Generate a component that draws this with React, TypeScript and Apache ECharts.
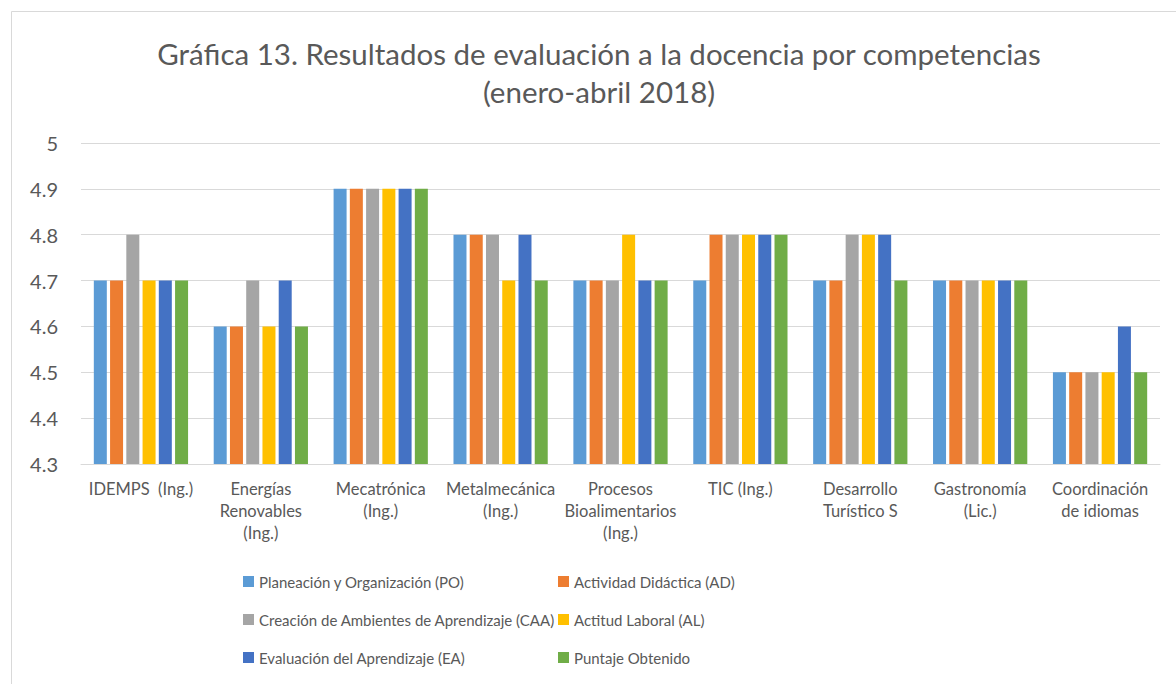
import React, { useEffect, useRef } from "react";
import * as echarts from "echarts";

const categories = [
  "IDEMPS  (Ing.)",
  "Energías\nRenovables\n(Ing.)",
  "Mecatrónica\n(Ing.)",
  "Metalmecánica\n(Ing.)",
  "Procesos\nBioalimentarios\n(Ing.)",
  "TIC (Ing.)",
  "Desarrollo\nTurístico S",
  "Gastronomía\n(Lic.)",
  "Coordinación\nde idiomas",
];

const seriesNames = [
  "Planeación y Organización (PO)",
  "Actividad Didáctica (AD)",
  "Creación de Ambientes de Aprendizaje (CAA)",
  "Actitud Laboral (AL)",
  "Evaluación del Aprendizaje (EA)",
  "Puntaje Obtenido",
];

const colors = ["#5B9BD5", "#ED7D31", "#A5A5A5", "#FFC000", "#4472C4", "#70AD47"];

const po = [4.7, 4.6, 4.9, 4.8, 4.7, 4.7, 4.7, 4.7, 4.5];
const ad = [4.7, 4.6, 4.9, 4.8, 4.7, 4.8, 4.7, 4.7, 4.5];
const caa = [4.8, 4.7, 4.9, 4.8, 4.7, 4.8, 4.8, 4.7, 4.5];
const al = [4.7, 4.6, 4.9, 4.7, 4.8, 4.8, 4.8, 4.7, 4.5];
const ea = [4.7, 4.7, 4.9, 4.8, 4.7, 4.8, 4.8, 4.7, 4.6];
const puntaje = [4.7, 4.6, 4.9, 4.7, 4.7, 4.8, 4.7, 4.7, 4.5];

const seriesData = [po, ad, caa, al, ea, puntaje];

const FONT = "Lato";
const TEXT = "#595959";

export default function App() {
  const ref = useRef<HTMLDivElement>(null);
  useEffect(() => {
    if (!ref.current) return;
    const chart = echarts.init(ref.current, undefined, { renderer: "svg" });
    const legendText = { color: TEXT, fontFamily: FONT, fontSize: 15 };
    chart.setOption({
      animation: false,
      backgroundColor: "#ffffff",
      color: colors,
      textStyle: { fontFamily: FONT },
      title: {
        text: "Gráfica 13. Resultados de evaluación a la docencia por competencias\n(enero-abril 2018)",
        left: 599,
        textAlign: "center",
        top: 34,
        padding: 0,
        textStyle: {
          color: TEXT,
          fontFamily: FONT,
          fontSize: 29.5,
          fontWeight: "normal",
          lineHeight: 38,
        },
      },
      graphic: [
        {
          type: "rect",
          shape: { x: 11.5, y: 11.5, width: 1200, height: 700 },
          style: { fill: "none", stroke: "#d9d9d9", lineWidth: 1 },
          silent: true,
        },
      ],
      legend: [
        {
          orient: "vertical",
          left: 238,
          top: 569,
          itemWidth: 11,
          itemHeight: 11,
          itemGap: 23,
          icon: "rect",
          data: [seriesNames[0], seriesNames[2], seriesNames[4]],
          textStyle: legendText,
        },
        {
          orient: "vertical",
          left: 553,
          top: 569,
          itemWidth: 11,
          itemHeight: 11,
          itemGap: 23,
          icon: "rect",
          data: [seriesNames[1], seriesNames[3], seriesNames[5]],
          textStyle: legendText,
        },
      ],
      grid: { left: 81, right: 16, top: 143, bottom: 220, containLabel: false },
      xAxis: {
        type: "category",
        data: categories,
        axisLine: { lineStyle: { color: "#d9d9d9", width: 1 } },
        axisTick: { show: false },
        axisLabel: {
          color: TEXT,
          fontFamily: FONT,
          fontSize: 16.5,
          lineHeight: 22,
          margin: 14,
          interval: 0,
        },
      },
      yAxis: {
        type: "value",
        min: 4.3,
        max: 5,
        interval: 0.1,
        axisLine: { show: false },
        axisTick: { show: false },
        splitLine: { lineStyle: { color: "#d9d9d9", width: 1 } },
        axisLabel: {
          color: TEXT,
          fontFamily: FONT,
          fontSize: 20,
          margin: 23,
          formatter: (v: number) => String(Math.round(v * 10) / 10),
        },
      },
      series: seriesNames.map((name, i) => ({
        name,
        type: "bar",
        data: seriesData[i],
        barWidth: 13,
        barGap: "25%",
        itemStyle: { color: colors[i] },
      })),
    });
    return () => chart.dispose();
  }, []);
  return (
    <div
      ref={ref}
      style={{ position: "absolute", left: 0, top: 0, width: 1176, height: 684 }}
    />
  );
}
